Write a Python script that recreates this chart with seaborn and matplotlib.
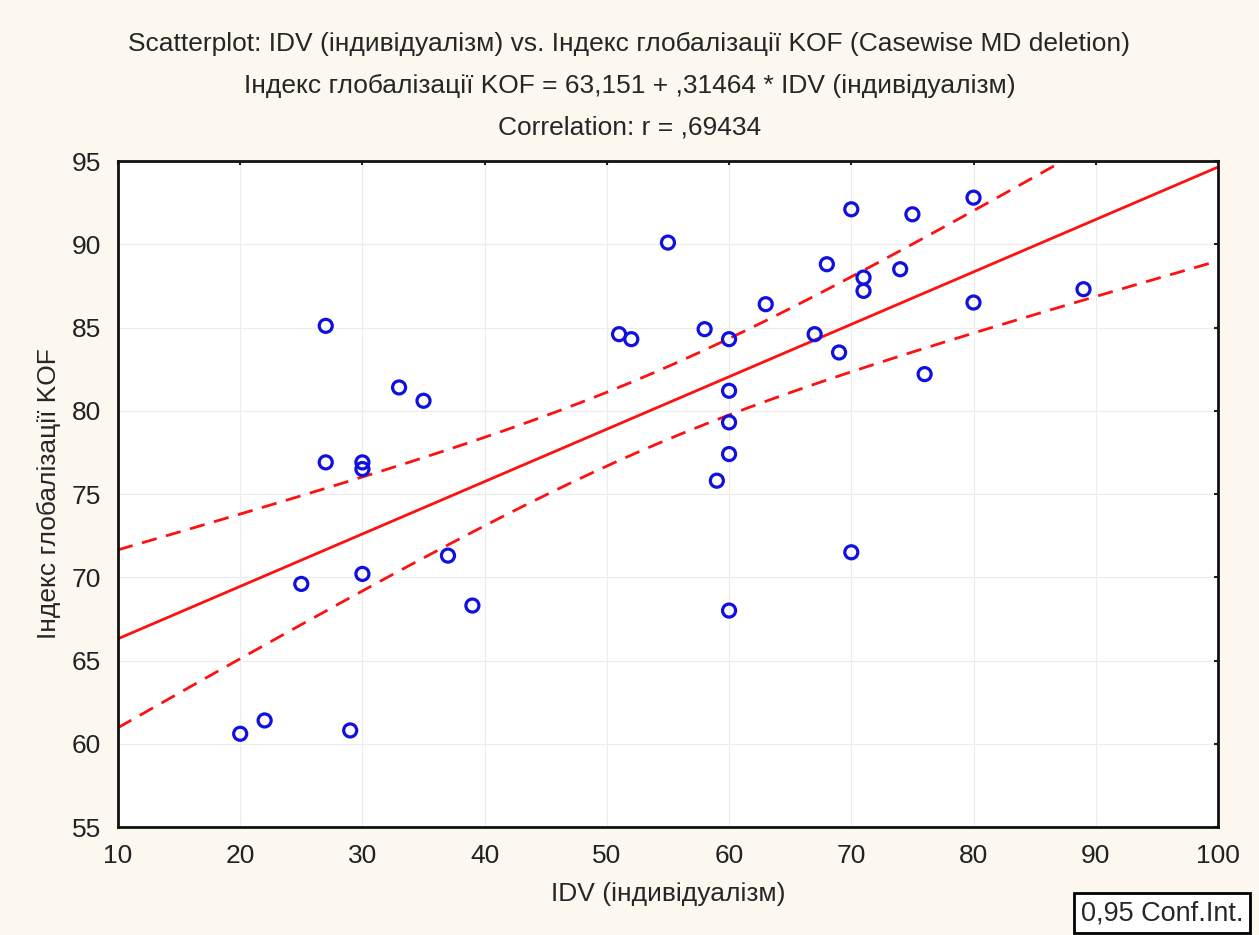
import numpy as np
import pandas as pd
import matplotlib
matplotlib.use('Agg')
import matplotlib.pyplot as plt
import seaborn as sns

idv = [20, 22, 25, 27, 27, 29, 30, 30, 30, 33, 35, 37, 39,
       51, 52, 55, 58, 59, 60, 60, 60, 60, 60, 63, 67, 68, 69,
       70, 70, 71, 71, 74, 75, 76, 80, 80, 89]
kof = [60.6, 61.4, 69.6, 85.1, 76.9, 60.8, 76.9, 76.5, 70.2, 81.4, 80.6, 71.3, 68.3,
       84.6, 84.3, 90.1, 84.9, 75.8, 84.3, 81.2, 79.3, 77.4, 68.0, 86.4, 84.6, 88.8, 83.5,
       92.1, 71.5, 88.0, 87.2, 88.5, 91.8, 82.2, 92.8, 86.5, 87.3]
xticks = [10, 20, 30, 40, 50, 60, 70, 80, 90, 100]
yticks = [55, 60, 65, 70, 75, 80, 85, 90, 95]

df = pd.DataFrame({'idv': idv, 'kof': kof})

sns.set_style('white')
plt.rcParams['font.family'] = ['Liberation Sans', 'DejaVu Sans']

fig = plt.figure(figsize=(12.59, 9.35), dpi=100)
fig.patch.set_facecolor('#fcf8f0')
ax = fig.add_axes([0.0937, 0.1155, 0.8737, 0.7123])
ax.set_facecolor('white')

# linear fit + 95% confidence band
x = df['idv'].values
y = df['kof'].values
n = len(x)
b, a = np.polyfit(x, y, 1)
resid = y - (a + b * x)
s = np.sqrt(np.sum(resid ** 2) / (n - 2))
tcrit = 2.03  # t(0.975, df=35)
xs = np.linspace(10, 100, 200)
fit = a + b * xs
se = s * np.sqrt(1 / n + (xs - x.mean()) ** 2 / np.sum((x - x.mean()) ** 2))

ax.plot(xs, fit, color='#ff1010', lw=2.0, zorder=2)
ax.plot(xs, fit + tcrit * se, color='#ff1010', lw=2.0, ls=(0, (5.5, 3.5)), zorder=2)
ax.plot(xs, fit - tcrit * se, color='#ff1010', lw=2.0, ls=(0, (5.5, 3.5)), zorder=2)

sns.scatterplot(data=df, x='idv', y='kof', ax=ax, marker='o', s=88,
                facecolor='none', edgecolor='#1010e0', linewidth=2.3, zorder=3)

ax.set_xlim(10, 100)
ax.set_ylim(55, 95)
ax.set_xticks(xticks)
ax.set_yticks(yticks)
ax.grid(True, color='#ececec', lw=0.8)
ax.tick_params(direction='in', length=3, width=1.5, top=True, right=True,
               labelsize=19, pad=12, colors='#222222', labelcolor='#222222')
for sp in ax.spines.values():
    sp.set_linewidth(2)
    sp.set_color('#111111')

ax.set_xlabel('IDV (індивідуалізм)', fontsize=19, labelpad=10)
ax.set_ylabel('Індекс глобалізації KOF', fontsize=19, labelpad=8)

fig.text(0.5, 1 - 44 / 935, 'Scatterplot: IDV (індивідуалізм) vs. Індекс глобалізації KOF (Casewise MD deletion)',
         ha='center', va='center', fontsize=19)
fig.text(0.5, 1 - 86 / 935, 'Індекс глобалізації KOF = 63,151 + ,31464 * IDV (індивідуалізм)',
         ha='center', va='center', fontsize=19)
fig.text(0.5, 1 - 128 / 935, 'Correlation: r = ,69434',
         ha='center', va='center', fontsize=19)

fig.text(1162 / 1259, 1 - 913 / 935, '0,95 Conf.Int.', ha='center', va='center', fontsize=19.5,
         bbox=dict(boxstyle='square,pad=0.25', facecolor='white', edgecolor='black', lw=2))

fig.savefig('out.png', dpi=100, facecolor=fig.get_facecolor())
